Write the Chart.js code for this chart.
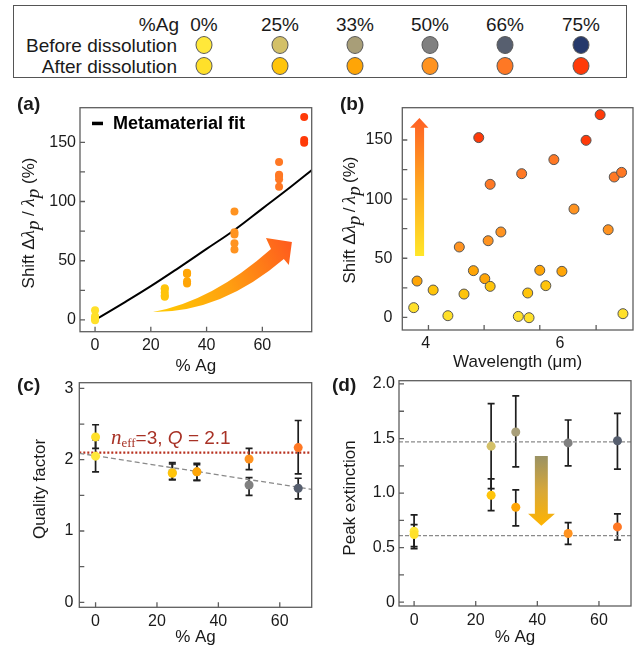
<!DOCTYPE html>
<html>
<head>
<meta charset="utf-8">
<title>Ag dissolution</title>
<script src="https://cdn.jsdelivr.net/npm/chart.js@4.4.1/dist/chart.umd.min.js"></script>
<style>
  body { margin: 0; background: #fff; }
  #page { position: relative; width: 639px; height: 652px; overflow: hidden;
          font-family: "Liberation Sans", Arial, sans-serif; color: #1a1a1a; }
  canvas { position: absolute; }
  .txt { position: absolute; white-space: nowrap; line-height: 1; }
  .panel { font-weight: bold; font-size: 19px; transform: translateY(-50%); }
  .ytitle { font-size: 17px; transform: translate(-50%, -50%) rotate(-90deg); }
  .m { font-family: "Liberation Serif", serif; font-style: italic; font-size: 19px; }
  sub { font-size: 68%; vertical-align: -0.3em; line-height: 0; }
  .dot { position: absolute; width: 17px; height: 18px; border-radius: 50%;
         border: 1px solid #5a5a5a; box-sizing: border-box; transform: translate(-50%, -50%); }
  #legend { position: absolute; left: 13px; top: 5px; width: 614px; height: 73px;
            border: 1.3px solid #555; box-sizing: border-box; }
</style>
</head>
<body>
<div id="page">
  <div id="legend"></div>

  <canvas id="chartA" width="320" height="292" style="left:0;top:85px"></canvas>
  <canvas id="chartB" width="319" height="292" style="left:320px;top:85px"></canvas>
  <canvas id="chartC" width="320" height="290" style="left:0;top:362px"></canvas>
  <canvas id="chartD" width="319" height="290" style="left:320px;top:362px"></canvas>

  <div class="txt panel" style="left:17px;top:103px">(a)</div>
  <div class="txt panel" style="left:340px;top:103px">(b)</div>
  <div class="txt panel" style="left:17px;top:384px">(c)</div>
  <div class="txt panel" style="left:332px;top:384px">(d)</div>

  <div class="txt ytitle" style="left:27px;top:223px">Shift &Delta;<span class="m">&lambda;</span><sub class="m">p</sub> / <span class="m">&lambda;</span><sub class="m">p</sub> (%)</div>
  <div class="txt ytitle" style="left:348px;top:220px">Shift &Delta;<span class="m">&lambda;</span><sub class="m">p</sub>&thinsp;/&thinsp;<span class="m">&lambda;</span><sub class="m">p</sub>&thinsp;(%)</div>
  <div class="txt ytitle" style="left:39px;top:489px">Quality factor</div>
  <div class="txt ytitle" style="left:349px;top:498px">Peak extinction</div>

  <div class="txt" style="left:111px;top:437px;transform:translateY(-50%);color:#a83226;font-size:19px"><span class="m" style="font-size:21px">n</span><sub style="font-family:'Liberation Serif',serif">eff</sub>=3, <i>Q</i> = 2.1</div>
</div>

<script>
// ---------- data ----------
var agLevels = [0, 25, 33, 50, 66, 75];
var agLabels = ['0%', '25%', '33%', '50%', '66%', '75%'];
var beforeColors = ['#ffe83a', '#d3c068', '#a89e78', '#808080', '#575f6f', '#26396b'];
var afterColors = ['#ffe02a', '#ffc40a', '#ffa506', '#ff9320', '#ff7824', '#ff3a08'];

// peak shift (%) and peak wavelength (um), one pair of lists per Ag level
var shift0 = [8.2, 1.4, 0.8, -0.3, 3.1];
var wl0 = [3.82, 4.33, 5.38, 5.54, 6.94];
var shift25 = [23.1, 19.7, 26.2, 20.6, 26.8];
var wl25 = [4.11, 4.57, 4.96, 5.52, 5.79];
var shift33 = [30.7, 39.5, 32.7, 39.8, 38.9];
var wl33 = [3.87, 4.71, 4.88, 5.70, 6.03];
var shift50 = [59.5, 64.8, 72.2, 91.6, 74.1];
var wl50 = [4.50, 4.93, 5.12, 6.21, 6.72];
var shift66 = [112.5, 121.5, 133.4, 118.7, 122.6];
var wl66 = [4.96, 5.43, 5.91, 6.81, 6.92];
var shift75 = [152.0, 149.7, 171.4];
var wl75 = [4.79, 6.39, 6.60];

// metamaterial fit
var fitAg = [0, 10, 20, 30, 40, 50, 60, 70, 78];
var fitShift = [0, 14, 28.5, 44, 60, 76, 94, 112, 127];

var shiftTicks = [0, 50, 100, 150];
var agTicks = [0, 20, 40, 60];
var wlTicks = [4, 6];

// quality factor, panel (c)
var qAg = [0, 25, 33, 50, 66];
var qBefore = [2.05, 1.82, 1.83, 1.645, 1.60];
var qBeforeLo = [1.83, 1.72, 1.71, 1.50, 1.45];
var qBeforeHi = [2.28, 1.94, 1.95, 1.75, 1.74];
var qAfter = [2.32, 1.81, 1.83, 2.01, 2.17];
var qAfterLo = [2.16, 1.72, 1.71, 1.86, 1.80];
var qAfterHi = [2.49, 1.96, 1.93, 2.16, 2.55];
var qTrendAg = [-5.3, 70.4];
var qTrend = [2.09, 1.585];
var qModel = 2.1;
var qTicks = [0, 1, 2, 3];

// peak extinction, panel (d)
var extBefore = [0.65, 1.43, 1.56, 1.46, 1.48];
var extBeforeLo = [0.49, 1.04, 1.24, 1.25, 1.22];
var extBeforeHi = [0.80, 1.82, 1.89, 1.67, 1.73];
var extAfter = [0.62, 0.98, 0.87, 0.63, 0.69];
var extAfterLo = [0.51, 0.84, 0.70, 0.53, 0.57];
var extAfterHi = [0.71, 1.13, 1.03, 0.73, 0.81];
var extLevels = [1.47, 0.61];
var extTicks = [0, 0.5, 1, 1.5, 2];

var shiftGroups = [shift0, shift25, shift33, shift50, shift66, shift75];
var wlGroups = [wl0, wl25, wl33, wl50, wl66, wl75];

/* legend box on top
************************************************** */
var legend = document.getElementById('legend');
var colX = [190, 266, 341, 416, 491, 567]; // column centres inside the box
function addText(txt, style) {
	var d = document.createElement('div');
	d.className = 'txt';
	d.textContent = txt;
	d.style.cssText = 'font-size:19px;' + style;
	legend.appendChild(d);
}
addText('%Ag', 'right:447px;top:18px;transform:translateY(-50%)');
addText('Before dissolution', 'right:449px;top:39px;transform:translateY(-50%)');
addText('After dissolution', 'right:449px;top:60px;transform:translateY(-50%)');
agLabels.forEach(function(lab, i) {
	addText(lab, 'left:' + colX[i] + 'px;top:18px;transform:translate(-50%,-50%)');
	var b = document.createElement('div');
	b.className = 'dot';
	b.style.cssText = 'left:' + colX[i] + 'px;top:39px;background:' + beforeColors[i];
	legend.appendChild(b);
	var a = document.createElement('div');
	a.className = 'dot';
	a.style.cssText = 'left:' + colX[i] + 'px;top:60px;background:' + afterColors[i];
	legend.appendChild(a);
});

/* shared helpers
************************************************** */
var fontFam = '"Liberation Sans", Arial, sans-serif';
var ink = '#1a1a1a';

function pts(xs, ys) {
	return xs.map(function(x, k) { return { x: x, y: ys[k] }; });
}
function fixTicks(list) {
	return function(s) { s.ticks = list.map(function(v) { return { value: v }; }); };
}

// axes with fixed box sizes so the plot frame lands where the figure has it
function axes(o) {
	return {
		x: {
			type: 'linear', min: o.xMin, max: o.xMax,
			afterBuildTicks: fixTicks(o.xTicks),
			afterFit: function(s) { s.height = o.xH; },
			grid: { display: false, drawTicks: false }, border: { display: false },
			ticks: { font: { family: fontFam, size: 16 }, color: ink, padding: o.xPad, maxRotation: 0, autoSkip: false },
			title: { display: true, text: o.xTitle, color: ink, font: { family: fontFam, size: 17 }, padding: { top: 0, bottom: o.xTitlePad } }
		},
		y: {
			type: 'linear', min: o.yMin, max: o.yMax,
			afterBuildTicks: fixTicks(o.yTicks),
			afterFit: function(s) { s.width = o.yW; },
			grid: { display: false, drawTicks: false }, border: { display: false },
			ticks: { font: { family: fontFam, size: 16 }, color: ink, padding: o.yPad, autoSkip: false }
		}
	};
}

// frame round the plot and short inward ticks on the left and bottom
function framePlugin(xMarks, yMarks) {
	return {
		id: 'frame',
		afterDraw: function(chart) {
			var a = chart.chartArea, ctx = chart.ctx;
			var sx = chart.scales.x, sy = chart.scales.y;
			ctx.save();
			ctx.strokeStyle = '#5e5e5e';
			ctx.lineWidth = 1.3;
			ctx.beginPath();
			xMarks.forEach(function(v) {
				var p = sx.getPixelForValue(v);
				ctx.moveTo(p, a.bottom); ctx.lineTo(p, a.bottom - 5);
			});
			yMarks.forEach(function(v) {
				var p = sy.getPixelForValue(v);
				ctx.moveTo(a.left, p); ctx.lineTo(a.left + 5, p);
			});
			ctx.stroke();
			ctx.strokeRect(a.left, a.top, a.right - a.left, a.bottom - a.top);
			ctx.restore();
		}
	};
}

var errorBarPlugin = {
	id: 'errorBars',
	beforeDatasetsDraw: function(chart) {
		var ctx = chart.ctx, sy = chart.scales.y;
		ctx.save();
		ctx.strokeStyle = '#1e1e1e';
		ctx.lineWidth = 1.7;
		chart.data.datasets.forEach(function(ds, i) {
			if (!ds.errLo) return;
			chart.getDatasetMeta(i).data.forEach(function(p, j) {
				var lo = sy.getPixelForValue(ds.errLo[j]);
				var hi = sy.getPixelForValue(ds.errHi[j]);
				ctx.beginPath();
				ctx.moveTo(p.x, lo); ctx.lineTo(p.x, hi);
				ctx.moveTo(p.x - 3.5, lo); ctx.lineTo(p.x + 3.5, lo);
				ctx.moveTo(p.x - 3.5, hi); ctx.lineTo(p.x + 3.5, hi);
				ctx.stroke();
			});
		});
		ctx.restore();
	}
};

// arrow outline given in data units, filled with a gradient from start to end
function arrowPlugin(shape, from, to, stops) {
	return {
		id: 'arrow',
		beforeDatasetsDraw: function(chart) {
			var ctx = chart.ctx, sx = chart.scales.x, sy = chart.scales.y;
			function P(p) { return [sx.getPixelForValue(p[0]), sy.getPixelForValue(p[1])]; }
			var f = P(from), t = P(to);
			var g = ctx.createLinearGradient(f[0], f[1], t[0], t[1]);
			stops.forEach(function(s, k) { g.addColorStop(k / (stops.length - 1), s); });
			ctx.save();
			ctx.fillStyle = g;
			ctx.beginPath();
			shape.forEach(function(seg, k) {
				if (k === 0) { var p0 = P(seg); ctx.moveTo(p0[0], p0[1]); }
				else if (seg.length === 4) {
					var c = P([seg[0], seg[1]]), e = P([seg[2], seg[3]]);
					ctx.quadraticCurveTo(c[0], c[1], e[0], e[1]);
				} else { var q = P(seg); ctx.lineTo(q[0], q[1]); }
			});
			ctx.closePath();
			ctx.fill();
			ctx.restore();
		}
	};
}

var baseOpts = {
	responsive: false,
	animation: false,
	plugins: { legend: { display: false }, tooltip: { enabled: false } }
};
function opts(pad, sc) {
	return Object.assign({}, baseOpts, { layout: { padding: pad }, scales: sc });
}

/* (a) shift versus Ag content
************************************************** */
var dsA = shiftGroups.map(function(g, i) {
	return {
		data: g.map(function(v) { return { x: agLevels[i], y: v }; }),
		pointRadius: 4, pointBorderWidth: 0, pointBackgroundColor: afterColors[i]
	};
});
dsA.push({
	data: pts(fitAg, fitShift), showLine: true, pointRadius: 0,
	borderColor: '#000', borderWidth: 2, tension: 0.4
});

var bendArrow = [[20.8, 6.8], [41.9, 15.6, 63.1, 59.9], [61.3, 69.2], [70.6, 65.8], [69.5, 46.4], [67.7, 51.5], [45.3, 6.3, 20.8, 6.8]];
var fitKey = {
	id: 'fitKey',
	afterDraw: function(chart) {
		var a = chart.chartArea, ctx = chart.ctx;
		ctx.save();
		ctx.fillStyle = '#000';
		ctx.fillRect(a.left + 12, a.top + 14, 11, 3.5);
		ctx.font = 'bold 18px ' + fontFam;
		ctx.textBaseline = 'middle';
		ctx.fillText('Metamaterial fit', a.left + 33, a.top + 16);
		ctx.restore();
	}
};

new Chart(document.getElementById('chartA'), {
	type: 'scatter',
	data: { datasets: dsA },
	options: opts({ left: 0, top: 22.7, right: 8.3, bottom: 0 }, axes({
		xMin: -5.4, xMax: 77.7, yMin: -9.9, yMax: 179.2,
		xTicks: agTicks, yTicks: shiftTicks, xH: 45.3, yW: 80,
		xPad: 4, yPad: 4, xTitle: '% Ag', xTitlePad: 0
	})),
	plugins: [framePlugin(agTicks, [0, 25, 50, 75, 100, 125, 150]),
		arrowPlugin(bendArrow, [20.8, 6.8], [70.6, 65.8], ['#ffcc00', '#ffa010', '#ff5a1e']), fitKey]
});

/* (b) shift versus wavelength
************************************************** */
var dsB = shiftGroups.map(function(g, i) {
	return {
		data: pts(wlGroups[i], g),
		pointRadius: 5, pointBorderWidth: 1, pointBorderColor: '#555',
		pointBackgroundColor: afterColors[i]
	};
});
var upArrow = [[3.84, 51.9], [3.84, 160.4], [3.766, 160.4], [3.905, 168.6], [4.04, 160.4], [3.975, 160.4], [3.975, 51.9]];

new Chart(document.getElementById('chartB'), {
	type: 'scatter',
	data: { datasets: dsB },
	options: opts({ left: 0, top: 22.7, right: 5.7, bottom: 0 }, axes({
		xMin: 3.65, xMax: 7.09, yMin: -10.7, yMax: 177.3,
		xTicks: wlTicks, yTicks: shiftTicks, xH: 47, yW: 82.3,
		xPad: 4, yPad: 10, xTitle: 'Wavelength (\u03bcm)', xTitlePad: 4
	})),
	plugins: [framePlugin([4.04, 4.87, 5.70, 6.54], [0, 25, 50, 75, 100, 125, 150]),
		arrowPlugin(upArrow, [3.9, 51.9], [3.9, 168.6], ['#ffe628', '#ffa820', '#ff6024'])]
});

/* (c) quality factor
************************************************** */
new Chart(document.getElementById('chartC'), {
	type: 'scatter',
	data: { datasets: [
		{ data: pts(qAg, qAfter), errLo: qAfterLo, errHi: qAfterHi,
		  pointRadius: 4.5, pointBorderWidth: 0, pointBackgroundColor: afterColors.slice(0, 5) },
		{ data: pts(qAg, qBefore), errLo: qBeforeLo, errHi: qBeforeHi,
		  pointRadius: 4.5, pointBorderWidth: 0, pointBackgroundColor: beforeColors.slice(0, 5) },
		{ data: pts(qTrendAg, qTrend), showLine: true, pointRadius: 0,
		  borderColor: '#8a8a8a', borderWidth: 1.3, borderDash: [5, 3] },
		{ data: pts(qTrendAg, [qModel, qModel]), showLine: true, pointRadius: 0,
		  borderColor: '#b8301e', borderWidth: 2.4, borderDash: [2, 2] }
	] },
	options: opts({ left: 0, top: 20.7, right: 8.3, bottom: 0 }, axes({
		xMin: -5.3, xMax: 70.4, yMin: -0.07, yMax: 3.08,
		xTicks: agTicks, yTicks: qTicks, xH: 44.7, yW: 79.3,
		xPad: 5, yPad: 6, xTitle: '% Ag', xTitlePad: 4
	})),
	plugins: [errorBarPlugin, framePlugin(agTicks, [0, 0.5, 1, 1.5, 2, 2.5, 3])]
});

/* (d) peak extinction
************************************************** */
var downArrow = [[39.2, 1.34], [39.2, 0.81], [37, 0.81], [41.3, 0.70], [45.7, 0.81], [43.4, 0.81], [43.4, 1.34]];

new Chart(document.getElementById('chartD'), {
	type: 'scatter',
	data: { datasets: [
		{ data: pts(qAg, extAfter), errLo: extAfterLo, errHi: extAfterHi,
		  pointRadius: 4.5, pointBorderWidth: 0, pointBackgroundColor: afterColors.slice(0, 5) },
		{ data: pts(qAg, extBefore), errLo: extBeforeLo, errHi: extBeforeHi,
		  pointRadius: 4.5, pointBorderWidth: 0, pointBackgroundColor: beforeColors.slice(0, 5) },
		{ data: pts([-4.9, 70.4], [extLevels[0], extLevels[0]]), showLine: true, pointRadius: 0,
		  borderColor: '#8a8a8a', borderWidth: 1.3, borderDash: [4, 2] },
		{ data: pts([-4.9, 70.4], [extLevels[1], extLevels[1]]), showLine: true, pointRadius: 0,
		  borderColor: '#8a8a8a', borderWidth: 1.3, borderDash: [4, 2] }
	] },
	options: opts({ left: 0, top: 18.7, right: 8, bottom: 0 }, axes({
		xMin: -4.9, xMax: 70.4, yMin: -0.035, yMax: 2.03,
		xTicks: agTicks, yTicks: extTicks, xH: 46, yW: 79,
		xPad: 5, yPad: 4, xTitle: '% Ag', xTitlePad: 4
	})),
	plugins: [errorBarPlugin, framePlugin(agTicks, [0, 0.25, 0.5, 0.75, 1, 1.25, 1.5, 1.75, 2]),
		arrowPlugin(downArrow, [41.3, 1.34], [41.3, 0.70], ['#9a9264', '#d8a838', '#ffb400'])]
});
</script>
</body>
</html>
